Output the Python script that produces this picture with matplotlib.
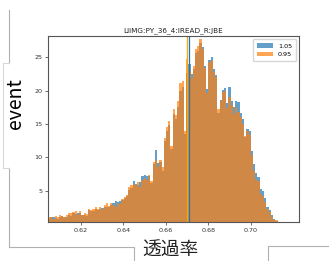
import numpy as np
import matplotlib.pyplot as plt
from matplotlib.lines import Line2D

# =====================
# Données (lues à l'oeil)
# =====================
titre = "LIiMG:PY_36_4:IREAD_R:JBE"
labels = ["1.05", "0.95"]

# bins de l'histogramme (densité)
bin_start = 0.6045
bin_width = 0.00105

h_105 = [0.8, 1.0, 1.0, 0.9, 0.8, 1.0, 1.2, 1.0, 1.1, 1.3,
         1.2, 1.6, 1.5, 1.6, 1.7, 1.3, 1.4, 1.2, 2.1, 2.0,
         1.9, 2.2, 2.1, 2.3, 2.4, 2.5, 2.6, 2.5, 2.9, 3.2,
         3.4, 3.3, 3.4, 3.6, 3.9, 4.2, 5.1, 5.4, 6.5, 6.0,
         5.9, 6.3, 7.2, 7.4, 7.2, 7.2, 6.2, 9.0, 11.1, 9.2,
         9.3, 8.0, 12.5, 14.0, 14.9, 11.3, 16.5, 15.8, 17.6, 20.0,
         20.6, 13.5, 22.6, 24.0, 22.5, 23.2, 25.6, 26.0, 27.2, 26.6,
         23.7, 20.3, 24.6, 25.0, 23.3, 22.4, 16.6, 18.6, 20.1, 20.4,
         18.2, 20.6, 18.4, 17.5, 18.4, 18.3, 16.7, 15.8, 13.0, 14.3,
         13.9, 11.0, 9.0, 7.6, 7.0, 5.2, 4.9, 3.9, 2.6, 2.1,
         1.3, 0.8, 0.5, 0.2]

h_095 = [1.0, 1.0, 0.7, 1.2, 1.0, 1.4, 1.2, 1.0, 1.3, 1.6,
         1.6, 1.8, 1.9, 1.4, 1.9, 1.4, 1.6, 1.5, 2.3, 2.1,
         2.2, 2.5, 2.3, 2.6, 2.2, 2.8, 3.1, 2.7, 3.2, 2.9,
         2.6, 3.1, 3.0, 3.8, 4.1, 4.4, 5.6, 5.9, 6.0, 5.8,
         6.3, 5.6, 6.6, 6.9, 6.6, 7.4, 6.4, 9.3, 9.6, 8.5,
         9.6, 8.6, 12.9, 14.6, 15.5, 11.7, 17.2, 16.4, 18.5, 21.1,
         21.4, 14.0, 24.8, 23.0, 21.9, 23.7, 26.2, 26.7, 27.7, 26.2,
         23.4, 19.6, 24.3, 24.6, 22.8, 22.0, 17.2, 18.4, 19.8, 20.0,
         17.4, 19.0, 17.8, 16.5, 17.6, 16.8, 16.0, 15.0, 13.2, 14.0,
         13.4, 10.4, 8.0, 6.8, 6.5, 4.5, 4.2, 3.3, 2.2, 1.8,
         1.1, 0.6, 0.6, 0.3]

# moyennes (lignes verticales)
moy_105 = 0.6712
moy_095 = 0.6702

edges = bin_start + bin_width * np.arange(len(h_105) + 1)

# ==========
# Figure
# ==========
fig = plt.figure(figsize=(3.29, 2.61), dpi=100)
ax = fig.add_axes([0.146, 0.149, 0.763, 0.713])

ax.hist(edges[:-1], bins=edges, weights=h_105, color='C0', alpha=0.7, label=labels[0])
ax.hist(edges[:-1], bins=edges, weights=h_095, color='C1', alpha=0.7, label=labels[1])
ax.axvline(moy_095, color='orange', lw=0.9)
ax.axvline(moy_105, color='C0', lw=0.9)

ax.set_xlim(0.6046, 0.7228)
ax.set_ylim(0.3, 28.2)
ax.set_xticks([0.62, 0.64, 0.66, 0.68, 0.70])
ax.set_yticks([5, 10, 15, 20, 25])
ax.tick_params(labelsize=4.6, length=2, width=0.5, pad=2, colors='#333333')
for s in ax.spines.values():
    s.set_color('#555555')
    s.set_linewidth(0.8)

ax.set_title(titre, fontsize=5.2, pad=3, color='#222222')
ax.legend(loc='upper right', fontsize=4.6, handlelength=2.5, borderpad=0.6)

# ===========================
# Cadre et étiquettes autour
# ===========================
W, H = 329, 261
def seg(x, y, c='#b0b0b0'):
    fig.add_artist(Line2D(np.array(x) / W, 1 - np.array(y) / H, color=c, lw=0.8))

seg([9, 9], [10, 63])
seg([9, 9], [168, 247])
seg([9, 134, 134], [247, 247, 261])
seg([268, 268, 329], [261, 246, 246])
# boîte de "event" (bord visible seulement à gauche)
seg([9, 3, 3, 9], [63, 63, 168, 168], c='#d8d8d8')

fig.text(16 / W, 1 - 104 / H, "event", rotation=90, ha='center', va='center',
         fontsize=14, family=['Noto Sans CJK JP', 'DejaVu Sans'])
fig.text(170 / W, 1 - 250 / H, "透過率", ha='center', va='center',
         fontsize=13.5, family=['Noto Sans CJK JP', 'DejaVu Sans'], color='#222222')

fig.savefig("out.png", dpi=100)
